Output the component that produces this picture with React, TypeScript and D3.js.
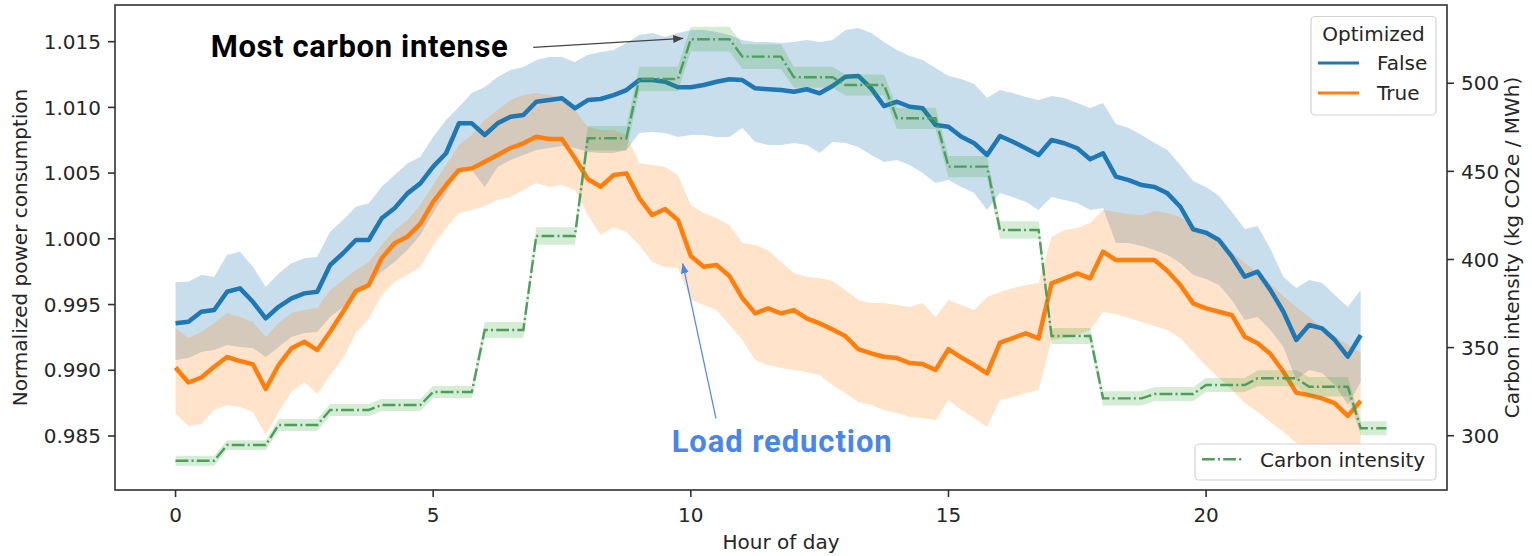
import * as d3 from "d3";

// sampling grid: every 15 minutes, 0 .. 23h
const hours = d3.range(0, 23.01, 0.25);

// Optimized = False (blue)
const falseMean = [
  0.99357, 0.99369, 0.99445, 0.99458, 0.99597, 0.99623, 0.99521, 0.99395, 0.99483, 0.99547, 0.99585, 0.99597,
  0.99801, 0.9989, 0.99991, 0.99991, 1.00156, 1.00232, 1.00346, 1.00422,
  1.00549, 1.00651, 1.00879, 1.00879, 1.0079, 1.00879, 1.00929, 1.00942,
  1.01043, 1.01056, 1.01069, 1.00993, 1.01056, 1.01064, 1.01094, 1.01132,
  1.01208, 1.01208, 1.01195, 1.01153, 1.01153, 1.0117, 1.01195, 1.01214,
  1.01208, 1.01145, 1.01138, 1.01132, 1.01119, 1.01138, 1.01107, 1.01163,
  1.01233, 1.01239, 1.01145, 1.0101, 1.01043, 1.01005, 1.00993, 1.00866,
  1.00853, 1.00777, 1.00727, 1.00638, 1.00782, 1.00739, 1.00689, 1.00638,
  1.00752, 1.00727, 1.00689, 1.00605, 1.00651, 1.00473, 1.00447, 1.00409,
  1.00394, 1.00346, 1.00244, 1.00072, 1.00046, 0.99991, 0.99864, 0.99712,
  0.9975, 0.9961, 0.99445, 0.9923, 0.99344, 0.99319, 0.9923, 0.99103,
  0.99268,
];
const falseHi = [
  0.99671, 0.99674, 0.99725, 0.99712, 0.99877, 0.99902, 0.99788, 0.99636, 0.99737, 0.99814, 0.99852, 0.99864,
  1.00054, 1.00143, 1.00244, 1.0027, 1.00396, 1.00485, 1.00574, 1.00625,
  1.00775, 1.00904, 1.01003, 1.01109, 1.01155, 1.01231, 1.01284, 1.01307,
  1.0136, 1.01383, 1.01383, 1.01345, 1.01399, 1.01421, 1.01437, 1.0149,
  1.01551, 1.01566, 1.01536, 1.01566, 1.01589, 1.01589, 1.01574, 1.01551,
  1.01513, 1.01497, 1.01497, 1.0149, 1.01497, 1.01513, 1.01497, 1.01513,
  1.01589, 1.01604, 1.01566, 1.01497, 1.01437, 1.01391, 1.0136, 1.013,
  1.01239, 1.01216, 1.01178, 1.01071, 1.01132, 1.01109, 1.01079, 1.01056,
  1.01087, 1.01071, 1.01033, 1.00995, 1.01033, 1.00874, 1.00843, 1.0079,
  1.00729, 1.00676, 1.00562, 1.0044, 1.00394, 1.00326, 1.00204, 1.00075,
  1.00097, 0.99922, 0.99709, 0.99626, 0.99687, 0.99664, 0.99572, 0.99481,
  0.9961,
];
const falseLo = [
  0.99078, 0.99093, 0.99139, 0.99154, 0.99192, 0.99177, 0.99169, 0.99101, 0.99177, 0.99253, 0.99283, 0.99291,
  0.99405, 0.99481, 0.99588, 0.99664, 0.99747, 0.99823, 0.99915, 1.00029,
  1.00196, 1.00348, 1.00546, 1.00524, 1.00394, 1.00546, 1.006, 1.00638,
  1.00676, 1.00691, 1.00706, 1.00691, 1.0066, 1.00653, 1.00653, 1.00676,
  1.00805, 1.00813, 1.00805, 1.00775, 1.0079, 1.0079, 1.00775, 1.00775,
  1.00843, 1.00737, 1.00714, 1.00714, 1.00729, 1.00714, 1.00653, 1.00737,
  1.00729, 1.00699, 1.00638, 1.00584, 1.006, 1.00562, 1.00501, 1.00425,
  1.00447, 1.00394, 1.00348, 1.00219, 1.00348, 1.00318, 1.0028, 1.00219,
  1.00318, 1.00295, 1.00272, 1.00219, 1.00234, 0.99968, 0.99968, 0.99945,
  0.99915, 0.99877, 0.99816, 0.99725, 0.99694, 0.99648, 0.99534, 0.99382,
  0.99405, 0.99306, 0.99177, 0.98926, 0.99002, 0.98979, 0.98888, 0.98735,
  0.9891,
];

// Optimized = True (orange)
const trueMean = [
  0.99021, 0.98907, 0.98945, 0.99027, 0.99101, 0.9907, 0.99047, 0.98857, 0.9904, 0.99167, 0.99217, 0.99154,
  0.99293, 0.99445, 0.99603, 0.99648, 0.99852, 0.99966, 1.00016, 1.00113,
  1.00282, 1.00409, 1.00524, 1.00536, 1.00587, 1.00638, 1.00691, 1.00727,
  1.00777, 1.00759, 1.00759, 1.00613, 1.00455, 1.00396, 1.00485, 1.00498,
  1.0031, 1.00181, 1.00227, 1.00143, 0.99869, 0.99788, 0.99801, 0.99717,
  0.9955, 0.99433, 0.99471, 0.99433, 0.99458, 0.99395, 0.99357, 0.99311,
  0.9926, 0.99161, 0.99129, 0.99103, 0.99093, 0.99055, 0.99047, 0.99002,
  0.99161, 0.99097, 0.9904, 0.98977, 0.99211, 0.99245, 0.99281, 0.99243,
  0.99661, 0.99699, 0.99737, 0.99699, 0.99902, 0.99839, 0.99839, 0.99839,
  0.99839, 0.99755, 0.99648, 0.99509, 0.99471, 0.99445, 0.9942, 0.99255,
  0.99205, 0.99123, 0.98989, 0.9883, 0.98811, 0.98786, 0.98748, 0.98653,
  0.98767,
];
const trueHi = [
  0.99321, 0.99245, 0.99291, 0.99359, 0.99435, 0.99405, 0.99367, 0.99253, 0.99359, 0.99435, 0.99458, 0.99473,
  0.9961, 0.99687, 0.99763, 0.99823, 0.99953, 1.00067, 1.00143, 1.00257,
  1.00409, 1.00562, 1.00714, 1.0079, 1.00904, 1.0098, 1.01056, 1.01094,
  1.01109, 1.01094, 1.01071, 1.0098, 1.00851, 1.00828, 1.00828, 1.0079,
  1.00577, 1.00562, 1.00546, 1.00485, 1.00257, 1.00196, 1.00158, 1.00105,
  0.99968, 0.99953, 0.99915, 0.99823, 0.9974, 0.99709, 0.99702, 0.99679,
  0.9961, 0.99534, 0.99511, 0.99511, 0.99496, 0.99481, 0.99511, 0.99405,
  0.99534, 0.99496, 0.99458, 0.99557, 0.99595, 0.99626, 0.99648, 0.99664,
  1.00014, 1.00067, 1.00082, 1.0012, 1.00219, 1.00204, 1.00189, 1.00181,
  1.00212, 1.00196, 1.00166, 1.00105, 1.00044, 0.99976, 0.999, 0.99816,
  0.9974, 0.99656, 0.99565, 0.99481, 0.99405, 0.99329, 0.9926, 0.99192,
  0.99131,
];
const trueLo = [
  0.98667, 0.98576, 0.98591, 0.98697, 0.98735, 0.9872, 0.98682, 0.98507, 0.98682, 0.98834, 0.9891, 0.98819,
  0.98964, 0.99093, 0.99283, 0.9939, 0.99572, 0.99671, 0.99725, 0.99785,
  0.99953, 1.00082, 1.00196, 1.00219, 1.0025, 1.00295, 1.00318, 1.00371,
  1.00425, 1.00394, 1.00409, 1.00371, 1.00181, 1.00029, 1.0009, 1.00052,
  0.99953, 0.99823, 0.99785, 0.99778, 0.99534, 0.99496, 0.99458, 0.99344,
  0.9923, 0.99078, 0.9904, 0.99017, 0.99002, 0.98986, 0.98964, 0.98888,
  0.98827, 0.98758, 0.98735, 0.98697, 0.98675, 0.98644, 0.98636, 0.98621,
  0.98773, 0.98697, 0.98636, 0.98568, 0.98773, 0.98796, 0.98827, 0.9885,
  0.9923, 0.99245, 0.99268, 0.99306, 0.99443, 0.99428, 0.99397, 0.99367,
  0.99336, 0.99306, 0.99245, 0.99139, 0.99032, 0.98941, 0.9885, 0.98751,
  0.98682, 0.98606, 0.9853, 0.98446, 0.98416, 0.98408, 0.98393, 0.98378,
  0.98378,
];

// carbon intensity per hour (kg CO2e / MWh) and its band half-width
const carbonHourly = [
  285.8, 294.7, 306.1, 314.6, 317.4, 324.8, 360.0, 413.3, 468.8, 502.4, 525.0, 515.1,
  503.4, 499.0, 480.1, 452.7, 416.7, 356.6, 321.2, 323.7, 328.8, 332.6, 327.8, 304.2,
];
const carbonCi = [
  2.8, 2.8, 3.4, 3.4, 3.4, 3.4, 4.5, 5, 7, 7, 7, 7,
  6, 6, 6, 6, 5, 4.5, 4, 4, 4, 4.5, 5.5, 4,
];

const xTicks = [0, 5, 10, 15, 20];
const leftTicks = [0.985, 0.99, 0.995, 1.0, 1.005, 1.01, 1.015];
const rightTicks = [300, 350, 400, 450, 500];

const BLUE = "#1f77b4";
const ORANGE = "#ff7f0e";
const GREEN = "#4f9d5d";
const TEXT = "#262626";

export default function App() {
  const left = 115, right = 1447, top = 5, bottom = 490;
  const x = d3.scaleLinear().domain([-1.175, 24.675]).range([left, right]);
  const yL = d3.scaleLinear().domain([0.98089, 1.01779]).range([bottom, top]);
  const yR = d3.scaleLinear().domain([269.2, 544.4]).range([bottom, top]);

  // each hourly carbon value is repeated for its 15-min samples
  const carbon = carbonHourly.flatMap((c, h) =>
    [0, 0.25, 0.5, 0.75]
      .filter((q) => h + q <= 23.5)
      .map((q) => ({ t: h + q, c, ci: carbonCi[h] }))
  );

  const band = (lo: number[], hi: number[]) =>
    d3
      .area<number>()
      .x((d) => x(d))
      .y0((_d, i) => yL(lo[i]))
      .y1((_d, i) => yL(hi[i]))(hours) || "";
  const line = (vals: number[]) =>
    d3
      .line<number>()
      .x((d) => x(d))
      .y((_d, i) => yL(vals[i]))(hours) || "";

  const carbonBand =
    d3
      .area<{ t: number; c: number; ci: number }>()
      .x((d) => x(d.t))
      .y0((d) => yR(d.c - d.ci))
      .y1((d) => yR(d.c + d.ci))(carbon) || "";
  const carbonLine =
    d3
      .line<{ t: number; c: number }>()
      .x((d) => x(d.t))
      .y((d) => yR(d.c))(carbon) || "";

  const fmt = d3.format(".3f");

  const annotations = [
    {
      label: "Most carbon intense",
      text: [0.682, 1.01386],
      from: [6.943, 1.01457],
      to: [9.853, 525.5],
      toCarbon: true,
      color: "#000000",
      arrow: "#444444",
      width: 297,
    },
    {
      label: "Load reduction",
      text: [9.628, 0.9838],
      from: [10.488, 0.98634],
      to: [9.842, 0.99814],
      toCarbon: false,
      color: "#4a86e8",
      arrow: "#4a86e8",
      width: 220,
    },
  ];

  return (
    <svg
      width={1532}
      height={556}
      style={{ position: "absolute", left: 0, top: 0, background: "#fff" }}
      fontFamily="DejaVu Sans, sans-serif"
    >
      <defs>
        <clipPath id="plot">
          <rect x={left} y={top} width={right - left} height={bottom - top} />
        </clipPath>
        {annotations.map((a, i) => (
          <marker
            key={i}
            id={`head${i}`}
            viewBox="0 0 10 8"
            refX={10}
            refY={4}
            markerWidth={10}
            markerHeight={8}
            markerUnits="userSpaceOnUse"
            orient="auto"
          >
            <path d="M0,0 L10,4 L0,8 z" fill={a.arrow} />
          </marker>
        ))}
      </defs>
      <rect x={0} y={0} width={1532} height={556} fill="#fff" />

      <g clipPath="url(#plot)">
        <path d={band(falseLo, falseHi)} fill={BLUE} fillOpacity={0.24} />
        <path d={band(trueLo, trueHi)} fill={ORANGE} fillOpacity={0.22} />
        <path d={line(falseMean)} fill="none" stroke={BLUE} strokeWidth={4.5} strokeLinejoin="round" />
        <path d={line(trueMean)} fill="none" stroke={ORANGE} strokeWidth={4.5} strokeLinejoin="round" />
        <path d={carbonBand} fill="#2ca02c" fillOpacity={0.2} />
        <path
          d={carbonLine}
          fill="none"
          stroke={GREEN}
          strokeWidth={2.4}
          strokeDasharray="12.8 3.2 2 3.2"
        />
      </g>

      {/* frame */}
      <rect
        x={left}
        y={top}
        width={right - left}
        height={bottom - top}
        fill="none"
        stroke="#303030"
        strokeWidth={1.6}
      />

      {/* x axis */}
      {xTicks.map((t) => (
        <g key={t}>
          <line x1={x(t)} x2={x(t)} y1={bottom} y2={bottom + 7} stroke="#303030" strokeWidth={1.6} />
          <text x={x(t)} y={522} fontSize={20} textAnchor="middle" fill={TEXT}>
            {t}
          </text>
        </g>
      ))}
      <text x={(left + right) / 2} y={549} fontSize={20} textAnchor="middle" fill={TEXT}>
        Hour of day
      </text>

      {/* left axis */}
      {leftTicks.map((t) => (
        <g key={t}>
          <line x1={left - 7} x2={left} y1={yL(t)} y2={yL(t)} stroke="#303030" strokeWidth={1.6} />
          <text x={101} y={yL(t)} dy="0.36em" fontSize={20} textAnchor="end" fill={TEXT}>
            {fmt(t)}
          </text>
        </g>
      ))}
      <text
        transform={`translate(27,${(top + bottom) / 2}) rotate(-90)`}
        fontSize={20}
        textAnchor="middle"
        fill={TEXT}
      >
        Normalized power consumption
      </text>

      {/* right axis */}
      {rightTicks.map((t) => (
        <g key={t}>
          <line x1={right} x2={right + 7} y1={yR(t)} y2={yR(t)} stroke="#303030" strokeWidth={1.6} />
          <text x={1461} y={yR(t)} dy="0.36em" fontSize={20} textAnchor="start" fill={TEXT}>
            {t}
          </text>
        </g>
      ))}
      <text
        transform={`translate(1519,${(top + bottom) / 2}) rotate(-90)`}
        fontSize={20}
        textAnchor="middle"
        fill={TEXT}
      >
        Carbon intensity (kg CO2e / MWh)
      </text>

      {/* legend: Optimized */}
      <g>
        <rect x={1311} y={16.5} width={125} height={98.5} rx={4} fill="#fff" fillOpacity={0.8} stroke="#d3d3d3" strokeWidth={1.2} />
        <text x={1373.5} y={40.6} fontSize={20} textAnchor="middle" fill={TEXT}>
          Optimized
        </text>
        <line x1={1318} x2={1359} y1={63} y2={63} stroke={BLUE} strokeWidth={3} />
        <text x={1377} y={70.3} fontSize={20} fill={TEXT}>
          False
        </text>
        <line x1={1318} x2={1359} y1={93} y2={93} stroke={ORANGE} strokeWidth={3} />
        <text x={1377} y={100.3} fontSize={20} fill={TEXT}>
          True
        </text>
      </g>

      {/* legend: carbon */}
      <g>
        <rect x={1195} y={444} width={241} height={36} rx={4} fill="#fff" fillOpacity={0.8} stroke="#d3d3d3" strokeWidth={1.2} />
        <line x1={1202} x2={1244} y1={459.3} y2={459.3} stroke={GREEN} strokeWidth={2.4} strokeDasharray="12.8 3.2 2 3.2" />
        <text x={1260} y={466.6} fontSize={20} fill={TEXT}>
          Carbon intensity
        </text>
      </g>

      {/* annotations */}
      {annotations.map((a, i) => (
        <g key={a.label}>
          <line
            x1={x(a.from[0])}
            y1={yL(a.from[1])}
            x2={x(a.to[0])}
            y2={a.toCarbon ? yR(a.to[1]) : yL(a.to[1])}
            stroke={a.arrow}
            strokeWidth={1.2}
            markerEnd={`url(#head${i})`}
          />
          <text
            x={x(a.text[0])}
            y={yL(a.text[1])}
            fontFamily="Roboto, 'Open Sans', sans-serif"
            fontWeight={700}
            fontSize={31}
            fill={a.color}
            textLength={a.width}
            lengthAdjust="spacing"
          >
            {a.label}
          </text>
        </g>
      ))}
    </svg>
  );
}
